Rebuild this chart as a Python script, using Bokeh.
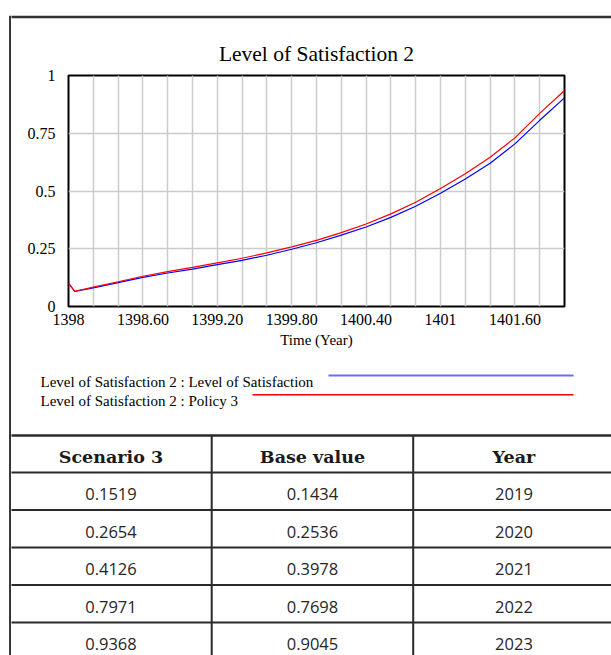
from bokeh.plotting import figure
from bokeh.models import Range1d, FixedTicker
from bokeh.layouts import column, row
from bokeh.embed import file_html
from bokeh.resources import INLINE
from bokeh.core.properties import value

# ---------------- data ----------------
years = [1398.0, 1398.05, 1398.2, 1398.4, 1398.6, 1398.8, 1399.0, 1399.2, 1399.4,
         1399.6, 1399.8, 1400.0, 1400.2, 1400.4, 1400.6, 1400.8, 1401.0, 1401.2,
         1401.4, 1401.6, 1401.8, 1402.0]
level_of_satisfaction = [0.101, 0.065, 0.081, 0.103, 0.126, 0.145, 0.162, 0.181, 0.200,
                         0.222, 0.248, 0.276, 0.309, 0.344, 0.386, 0.434, 0.490, 0.552,
                         0.620, 0.704, 0.806, 0.903]
policy_3 = [0.101, 0.066, 0.084, 0.107, 0.131, 0.151, 0.169, 0.189, 0.209,
            0.232, 0.258, 0.286, 0.320, 0.357, 0.401, 0.451, 0.511, 0.575,
            0.646, 0.730, 0.836, 0.935]

x_tick_values = [1398, 1398.6, 1399.2, 1399.8, 1400.4, 1401, 1401.6]
x_tick_labels = ["1398", "1398.60", "1399.20", "1399.80", "1400.40", "1401", "1401.60"]
x_grid_values = [1398.2, 1398.4, 1398.6, 1398.8, 1399.0, 1399.2, 1399.4, 1399.6, 1399.8,
                 1400.0, 1400.2, 1400.4, 1400.6, 1400.8, 1401.0, 1401.2, 1401.4, 1401.6,
                 1401.8]
y_tick_values = [0, 0.25, 0.5, 0.75, 1]
y_tick_labels = ["0", "0.25", "0.5", "0.75", "1"]
y_grid_values = [0.25, 0.5, 0.75]

chart_title = "Level of Satisfaction 2"
legend_labels = ["Level of Satisfaction 2 : Level of Satisfaction",
                 "Level of Satisfaction 2 : Policy 3"]
legend_colors = ["#6a6aff", "red"]

table_header = ["Scenario 3", "Base value", "Year"]
scenario_3 = ["0.1519", "0.2654", "0.4126", "0.7971", "0.9368"]
base_value = ["0.1434", "0.2536", "0.3978", "0.7698", "0.9045"]
table_years = ["2019", "2020", "2021", "2022", "2023"]

# ---------------- layout constants (page pixels) ----------------
W, H = 611, 655
STRIP_W = 11                      # left strip holding the outer frame's left edge
COL_W_PX = W - STRIP_W
HEADER_B = 25                     # header figure: 0..25
CHART_B = 355                     # chart figure: 25..355
LEGEND_B = 430                    # legend figure: 355..430, table: 430..655
FL, FR, FT, FB = 68, 564, 75, 306  # inner plot frame on the page
FRAME_C = "#333333"
SERIF = "Liberation Serif"


def canvas(width, height, x0, x1, y_top, y_bot):
    f = figure(width=width, height=height, x_range=Range1d(x0, x1),
               y_range=Range1d(y_bot, y_top), output_backend="svg",
               toolbar_location=None, title=None, x_axis_type=None, y_axis_type=None,
               min_border=0, min_border_left=0, min_border_right=0,
               min_border_top=0, min_border_bottom=0)
    f.outline_line_color = None
    f.background_fill_color = "white"
    f.border_fill_color = "white"
    f.grid.visible = False
    return f


# left strip: outer frame left edge
strip = canvas(STRIP_W, H, 0, STRIP_W, 0, H)
strip.segment(x0=[9.7], y0=[15.4], x1=[9.7], y1=[H + 5], line_color=FRAME_C, line_width=2.3)
strip.segment(x0=[8.6], y0=[16.5], x1=[STRIP_W + 1], y1=[16.5], line_color=FRAME_C,
              line_width=2.3)
strip.segment(x0=[8.6], y0=[435], x1=[STRIP_W + 1], y1=[435], line_color="#2a2a2a",
              line_width=2.6)

# header: outer frame top edge
head = canvas(COL_W_PX, HEADER_B, STRIP_W, W, 0, HEADER_B)
head.segment(x0=[STRIP_W - 1], y0=[16.5], x1=[W + 1], y1=[16.5], line_color=FRAME_C,
             line_width=2.3)

# chart
p = figure(width=COL_W_PX, height=CHART_B - HEADER_B, x_range=Range1d(1398, 1402),
           y_range=Range1d(0, 1), output_backend="svg", toolbar_location=None,
           title=chart_title,
           min_border_left=FL - STRIP_W, min_border_right=W - FR,
           min_border_top=FT - HEADER_B, min_border_bottom=CHART_B - FB)
p.title.align = "center"
p.title.text_font = SERIF
p.title.text_font_size = "21.5px"
p.title.text_font_style = "normal"
p.title.text_color = "black"
p.title.standoff = 19
p.title.offset = -4
p.background_fill_color = "white"
p.border_fill_color = "white"
p.outline_line_color = "black"
p.outline_line_width = 2

p.xgrid.ticker = FixedTicker(ticks=x_grid_values)
p.ygrid.ticker = FixedTicker(ticks=y_grid_values)
for g in (p.xgrid, p.ygrid):
    g.grid_line_color = "#cccccc"
    g.grid_line_width = 1.5

p.xaxis.ticker = FixedTicker(ticks=x_tick_values)
p.xaxis.major_label_overrides = dict(zip(x_tick_values, x_tick_labels))
p.yaxis.ticker = FixedTicker(ticks=y_tick_values)
p.yaxis.major_label_overrides = dict(zip(y_tick_values, y_tick_labels))
for ax in (p.xaxis, p.yaxis):
    ax.axis_line_color = None
    ax.major_tick_line_color = None
    ax.minor_tick_line_color = None
    ax.major_tick_out = 0
    ax.major_tick_in = 0
    ax.major_label_text_font = SERIF
    ax.major_label_text_font_size = "16px"
    ax.major_label_text_color = "black"
p.xaxis.major_label_standoff = 7
p.yaxis.major_label_standoff = 13
p.xaxis.axis_label = "Time (Year)"
p.xaxis.axis_label_text_font = SERIF
p.xaxis.axis_label_text_font_size = "15px"
p.xaxis.axis_label_text_font_style = "normal"
p.xaxis.axis_label_text_color = "black"
p.xaxis.axis_label_standoff = 4

p.line(years, level_of_satisfaction, line_color="blue", line_width=1.2)
p.line(years, policy_3, line_color="red", line_width=1.2)

# legend
leg = canvas(COL_W_PX, LEGEND_B - CHART_B, STRIP_W, W, CHART_B, LEGEND_B)
leg.text(x=[40, 40], y=[381.7, 400.5], text=legend_labels, text_align="left",
         text_baseline="alphabetic", text_font=value(SERIF), text_font_size="15px",
         text_color="black")
leg.segment(x0=[328, 252], y0=[375, 394.3], x1=[573, 573], y1=[375, 394.3],
            line_color=legend_colors, line_width=[2, 1.4])

# table
t = canvas(COL_W_PX, H - LEGEND_B, STRIP_W, W, LEGEND_B, H)
T_TOP = 435
HEADER_H = 37
ROW_H = 37.5
T_LEFT = 9.7
COL_W = 201.5
n_rows = len(scenario_3)
n_cols = len(table_header)

row_lines = [T_TOP + HEADER_H + i * ROW_H for i in range(n_rows + 1)]
col_lines = [T_LEFT + j * COL_W for j in range(1, n_cols + 1)]

t.segment(x0=[STRIP_W - 1], y0=[T_TOP], x1=[W + 5], y1=[T_TOP], line_color="#2a2a2a",
          line_width=2.6)
t.segment(x0=[STRIP_W - 1] * len(row_lines), y0=row_lines,
          x1=[W + 20] * len(row_lines), y1=row_lines, line_color="#2a2a2a", line_width=2)
t.segment(x0=col_lines, y0=[T_TOP] * len(col_lines), x1=col_lines,
          y1=[row_lines[-1]] * len(col_lines), line_color="#2a2a2a", line_width=2)

col_centers = [T_LEFT + (j + 0.5) * COL_W for j in range(n_cols)]
t.text(x=col_centers, y=[T_TOP + HEADER_H / 2 + 3] * n_cols, text=table_header,
       text_align="center", text_baseline="middle", text_font=value("DejaVu Serif"),
       text_font_style="bold", text_font_size="17.5px", text_color="#1a1a1a")
for j, colvals in enumerate([scenario_3, base_value, table_years]):
    ys = [T_TOP + HEADER_H + (i + 0.5) * ROW_H + 3 for i in range(n_rows)]
    t.text(x=[col_centers[j]] * n_rows, y=ys, text=colvals, text_align="center",
           text_baseline="middle", text_font=value("Open Sans"), text_font_size="16.5px",
           text_color="#262626")

figs = [strip, head, p, leg, t]
for f in figs:
    if "frame_align" in f.properties():
        f.frame_align = False

layout = row(strip, column(head, p, leg, t, spacing=0), spacing=0)
open("out.html", "w").write(file_html(layout, INLINE))
